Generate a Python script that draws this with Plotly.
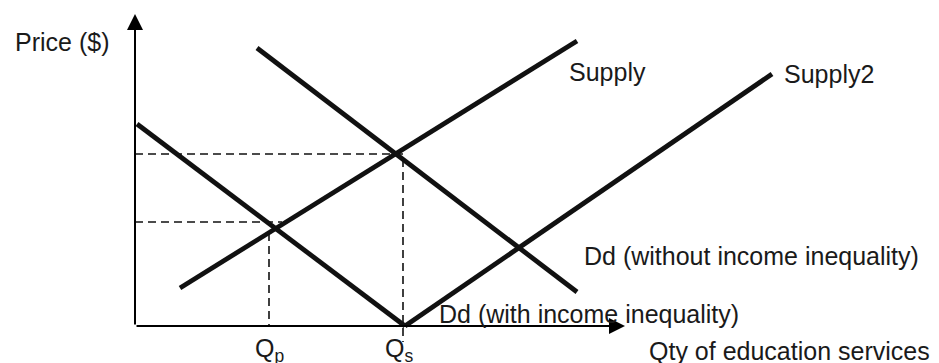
import plotly.graph_objects as go

# Curves (quantity, price) in chart units
supply_q = [4.5, 44.2]
supply_p = [3.8, 28.5]
supply2_q = [27.0, 63.7]
supply2_p = [0.0, 25.2]
dd_without_q = [12.2, 44.2]
dd_without_p = [27.8, 3.4]
dd_with_q = [0.2, 27.0]
dd_with_p = [20.2, 0.0]

# Dashed guide lines (None breaks segments)
guide_s_q = [0, 26.8, 26.8]
guide_s_p = [17.2, 17.2, -1.6]
guide_p_q = [0, 14.7, None, 13.4, 13.4]
guide_p_p = [10.4, 10.4, None, 9.3, 0]

# Axis extents
x_axis_end = 49.0
y_axis_end = 31.2

# Tick labels under the axis
q_labels = ["Q<sub>p</sub>", "Q<sub>s</sub>"]
q_positions = [13.4, 26.4]

FONT = dict(family="Liberation Sans, Arial, sans-serif", size=25, color="#1a1a1a")
LINE = "#111111"

fig = go.Figure()

# Dashed guides
for q, p in [(guide_s_q, guide_s_p), (guide_p_q, guide_p_p)]:
    fig.add_trace(go.Scatter(
        x=q, y=p, mode="lines",
        line=dict(color=LINE, width=1.6, dash="8px,5px"),
        hoverinfo="skip", showlegend=False,
    ))

# Supply / demand curves
for q, p in [(supply_q, supply_p), (supply2_q, supply2_p),
             (dd_without_q, dd_without_p), (dd_with_q, dd_with_p)]:
    fig.add_trace(go.Scatter(
        x=q, y=p, mode="lines",
        line=dict(color=LINE, width=4.8),
        hoverinfo="skip", showlegend=False,
    ))

# Axes with arrowheads
for tip_x, tip_y in [(0, y_axis_end), (x_axis_end, 0)]:
    fig.add_annotation(
        x=tip_x, y=tip_y, ax=0, ay=0, xref="x", yref="y", axref="x", ayref="y",
        text="", showarrow=True, arrowhead=2, arrowsize=1.6, arrowwidth=2,
        arrowcolor="#000000",
    )

# Text labels
labels = [
    ("Price ($)", -12.2, 28.4),
    ("Supply", 43.2, 25.4),
    ("Supply2", 64.7, 25.2),
    ("Dd (without income inequality)", 44.7, 7.0),
    ("Dd (with income inequality)", 30.2, 1.2),
    ("Qty of education services", 51.2, -2.5),
]
for text, x, y in labels:
    fig.add_annotation(x=x, y=y, text=text, showarrow=False,
                       xanchor="left", yanchor="middle", font=FONT)

for text, x in zip(q_labels, q_positions):
    fig.add_annotation(x=x, y=-2.4, text=text, showarrow=False,
                       xanchor="center", yanchor="middle", font=FONT)

# page body has an 8px margin, so the figure is 8px smaller each way
fig.update_layout(
    width=931, height=355,
    margin=dict(l=0, r=0, t=0, b=0),
    paper_bgcolor="white", plot_bgcolor="white",
    xaxis=dict(range=[-12.7, 80.4], visible=False, fixedrange=True),
    yaxis=dict(range=[-3.7, 31.8], visible=False, fixedrange=True),
)

fig.write_html("out.html")
